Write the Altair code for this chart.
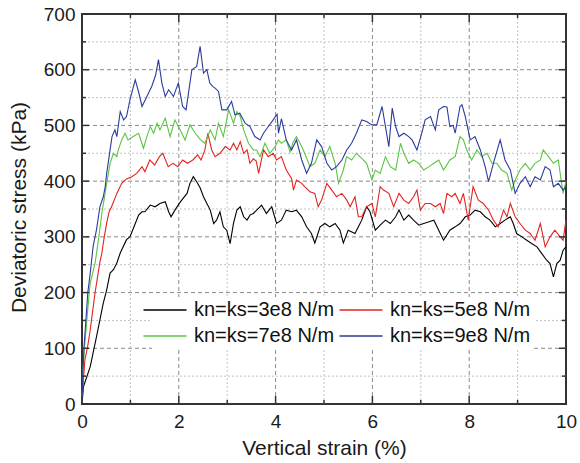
import altair as alt
import pandas as pd

# ---------------- data ----------------
labels = ["kn=ks=3e8 N/m", "kn=ks=5e8 N/m", "kn=ks=7e8 N/m", "kn=ks=9e8 N/m"]
colors = ["#000000", "#e3241f", "#5cc443", "#2b3c9c"]

black = [(0,0),(0.03,31),(0.17,67),(0.3,121),(0.44,181),(0.51,205),(0.58,235),(0.65,241),(0.72,253),(0.79,271),(0.92,295),(0.99,300),(1.06,315),(1.17,339),(1.24,345),(1.3,345),(1.41,357),(1.51,354),(1.61,360),(1.72,363),(1.79,345),(1.84,336),(1.92,348),(2.01,360),(2.06,366),(2.17,378),(2.23,396),(2.3,408),(2.37,399),(2.44,388),(2.51,372),(2.58,360),(2.65,348),(2.72,324),(2.78,330),(2.85,345),(2.92,318),(2.99,312),(3.06,288),(3.13,324),(3.2,348),(3.27,354),(3.34,336),(3.41,330),(3.47,339),(3.54,342),(3.61,348),(3.71,357),(3.81,342),(3.92,354),(4.02,324),(4.12,330),(4.22,348),(4.33,345),(4.43,348),(4.54,336),(4.64,318),(4.74,306),(4.81,289),(4.92,318),(5.02,324),(5.12,318),(5.23,324),(5.33,312),(5.4,289),(5.5,312),(5.64,306),(5.71,318),(5.78,330),(5.88,354),(5.95,345),(6.06,312),(6.16,321),(6.27,330),(6.37,324),(6.48,336),(6.55,348),(6.65,330),(6.75,339),(6.85,330),(6.96,321),(7.06,324),(7.17,327),(7.27,330),(7.37,312),(7.47,294),(7.6,312),(7.71,318),(7.81,324),(7.92,336),(8.02,339),(8.12,348),(8.23,345),(8.33,336),(8.43,330),(8.54,318),(8.64,324),(8.74,330),(8.85,336),(8.91,324),(8.98,306),(9.09,300),(9.19,294),(9.29,288),(9.4,282),(9.5,270),(9.6,258),(9.67,252),(9.74,228),(9.81,252),(9.88,258),(9.94,276),(10,282)]

red = [(0,0),(0.03,45),(0.06,79),(0.12,105),(0.17,133),(0.27,200),(0.37,255),(0.41,271),(0.46,300),(0.51,325),(0.56,345),(0.61,354),(0.72,378),(0.82,396),(0.92,404),(1.03,408),(1.13,414),(1.24,426),(1.3,417),(1.4,438),(1.5,429),(1.6,444),(1.67,450),(1.78,426),(1.88,432),(1.98,426),(2.08,438),(2.18,432),(2.29,438),(2.39,447),(2.46,438),(2.54,456),(2.6,486),(2.68,456),(2.75,444),(2.85,450),(2.96,462),(3.06,456),(3.13,468),(3.2,456),(3.27,471),(3.34,450),(3.41,456),(3.47,432),(3.54,440),(3.6,436),(3.65,414),(3.75,456),(3.85,444),(3.95,450),(4.02,438),(4.12,444),(4.22,420),(4.33,405),(4.37,384),(4.43,402),(4.54,396),(4.6,390),(4.71,381),(4.81,378),(4.88,354),(4.95,366),(5.06,396),(5.16,384),(5.26,372),(5.37,378),(5.47,366),(5.54,354),(5.64,372),(5.71,336),(5.78,336),(5.88,354),(5.99,360),(6.06,336),(6.16,390),(6.23,384),(6.34,378),(6.44,354),(6.55,378),(6.65,366),(6.75,360),(6.85,372),(6.92,384),(6.99,348),(7.09,360),(7.2,360),(7.3,354),(7.4,360),(7.47,342),(7.54,378),(7.64,372),(7.71,378),(7.81,360),(7.88,378),(7.98,330),(8.08,390),(8.19,366),(8.29,360),(8.4,348),(8.5,330),(8.6,318),(8.71,348),(8.78,336),(8.85,360),(8.95,336),(9.05,324),(9.16,312),(9.26,306),(9.36,294),(9.47,324),(9.57,282),(9.67,300),(9.77,312),(9.88,300),(9.94,294),(10,330)]

green = [(0,0),(0.02,60),(0.05,100),(0.1,150),(0.15,200),(0.17,217),(0.27,253),(0.34,295),(0.41,342),(0.51,396),(0.58,432),(0.65,450),(0.72,444),(0.75,456),(0.82,474),(0.89,486),(0.95,474),(1.06,480),(1.17,486),(1.27,459),(1.34,480),(1.41,498),(1.48,486),(1.55,504),(1.61,492),(1.72,513),(1.82,480),(1.92,510),(2.03,492),(2.13,474),(2.23,501),(2.34,486),(2.44,475),(2.54,468),(2.65,492),(2.75,474),(2.82,504),(2.92,480),(3.03,528),(3.13,504),(3.2,525),(3.27,516),(3.34,492),(3.44,468),(3.54,456),(3.61,456),(3.68,444),(3.78,468),(3.88,450),(3.99,462),(4.06,474),(4.12,468),(4.22,474),(4.3,452),(4.36,470),(4.43,480),(4.54,462),(4.6,450),(4.71,426),(4.81,432),(4.92,456),(5.02,444),(5.12,462),(5.23,432),(5.3,396),(5.4,420),(5.47,444),(5.57,438),(5.67,450),(5.78,441),(5.88,432),(5.99,402),(6.06,420),(6.16,414),(6.27,444),(6.37,426),(6.48,420),(6.58,468),(6.65,450),(6.75,432),(6.85,438),(6.96,432),(7.06,420),(7.17,426),(7.27,432),(7.37,438),(7.47,420),(7.6,438),(7.71,444),(7.81,480),(7.88,474),(7.95,456),(8.05,438),(8.16,456),(8.26,444),(8.37,450),(8.47,432),(8.57,432),(8.67,420),(8.78,414),(8.88,384),(8.95,402),(9.05,420),(9.16,432),(9.26,420),(9.36,432),(9.47,438),(9.53,456),(9.64,444),(9.74,432),(9.84,438),(9.94,378),(10,400)]

blue = [(0,0),(0.02,60),(0.04,100),(0.08,150),(0.12,200),(0.17,235),(0.23,283),(0.3,313),(0.37,354),(0.44,372),(0.48,390),(0.51,414),(0.58,456),(0.62,480),(0.68,492),(0.72,480),(0.79,525),(0.86,510),(0.92,516),(0.99,546),(1.1,582),(1.17,560),(1.24,534),(1.34,552),(1.44,570),(1.52,590),(1.58,618),(1.65,576),(1.72,552),(1.79,564),(1.89,552),(1.99,576),(2.08,534),(2.15,528),(2.22,570),(2.27,600),(2.37,606),(2.44,642),(2.51,594),(2.58,600),(2.64,576),(2.7,570),(2.75,567),(2.82,561),(2.89,528),(2.99,528),(3.09,543),(3.16,519),(3.26,522),(3.37,504),(3.47,498),(3.57,480),(3.68,474),(3.75,486),(3.85,498),(3.95,510),(4.03,520),(4.06,486),(4.12,512),(4.22,474),(4.33,456),(4.43,474),(4.54,438),(4.64,414),(4.74,432),(4.85,474),(4.95,462),(5.06,432),(5.16,420),(5.26,426),(5.37,438),(5.47,456),(5.57,468),(5.67,486),(5.78,510),(5.88,507),(5.99,501),(6.09,501),(6.2,534),(6.27,498),(6.34,462),(6.41,531),(6.48,498),(6.55,480),(6.65,486),(6.75,480),(6.82,474),(6.92,456),(7.02,486),(7.09,510),(7.2,516),(7.3,492),(7.37,528),(7.47,534),(7.54,533),(7.6,498),(7.67,500),(7.71,486),(7.81,534),(7.85,537),(7.92,516),(8.02,474),(8.12,480),(8.23,456),(8.33,426),(8.4,399),(8.5,432),(8.64,474),(8.74,438),(8.85,420),(8.95,378),(9.05,396),(9.16,408),(9.26,390),(9.36,408),(9.47,402),(9.57,426),(9.67,420),(9.74,390),(9.84,396),(9.94,384),(10,390)]

x_major = [0, 2, 4, 6, 8, 10]
x_minor = [1, 3, 5, 7, 9]
y_major = [0, 100, 200, 300, 400, 500, 600, 700]
y_minor = [50, 150, 250, 350, 450, 550, 650]

# ---------------- build table ----------------
rows = []
for name, pts in zip(labels, [black, red, green, blue]):
    for x, y in pts:
        rows.append({"strain": x, "stress": y, "series": name})
df = pd.DataFrame(rows)

W, H = 484, 390
FONT = "Liberation Sans"
xs = alt.Scale(domain=[0, 10], nice=False, zero=False)
ys = alt.Scale(domain=[0, 700], nice=False, zero=False)


def vdf(vals):
    return pd.DataFrame({"v": vals})


# grid
grid_vmaj = alt.Chart(vdf(x_major[1:-1])).mark_rule(color="#8a8a8a", strokeDash=[4, 3], strokeWidth=1).encode(
    x=alt.X("v:Q", scale=xs, axis=None))
grid_vmin = alt.Chart(vdf(x_minor)).mark_rule(color="#c2c2c2", strokeDash=[2, 2], strokeWidth=1).encode(
    x=alt.X("v:Q", scale=xs, axis=None))
grid_hmaj = alt.Chart(vdf(y_major[1:-1])).mark_rule(color="#8a8a8a", strokeDash=[4, 3], strokeWidth=1).encode(
    y=alt.Y("v:Q", scale=ys, axis=None))
grid_hmin = alt.Chart(vdf(y_minor)).mark_rule(color="#c2c2c2", strokeDash=[2, 2], strokeWidth=1).encode(
    y=alt.Y("v:Q", scale=ys, axis=None))

# legend symbol: a horizontal stroke 3x longer than its nominal size
SYM = "M-3,0H3"
SYM_SIZE = (43 / 3) ** 2

lines = alt.Chart(df).mark_line(strokeWidth=1.1).encode(
    x=alt.X("strain:Q", scale=xs,
            axis=alt.Axis(values=x_major, format="d", title="Vertical strain (%)", grid=False, ticks=False,
                          domain=False, labelFontSize=19, labelPadding=8, labelFlush=False,
                          titleFontSize=21, titleFontWeight="normal", titleX=W / 2, titleY=44,
                          titleBaseline="middle", titleAlign="center")),
    y=alt.Y("stress:Q", scale=ys,
            axis=alt.Axis(values=y_major, format="d", title="Deviatoric stress (kPa)", grid=False, ticks=False,
                          domain=False, labelFontSize=19, labelPadding=7, labelFlush=False,
                          titleFontSize=21, titleFontWeight="normal", titleX=-63, titleY=H / 2 - 2,
                          titleBaseline="middle", titleAlign="center")),
    color=alt.Color("series:N", scale=alt.Scale(domain=labels, range=colors),
                    legend=alt.Legend(title=None, orient="none", legendX=70, legendY=283, columns=2,
                                      direction="horizontal",
                                      symbolType=SYM, symbolSize=SYM_SIZE, symbolStrokeWidth=1.5,
                                      labelFontSize=20, labelFont=FONT, labelColor="#111111",
                                      fillColor="white", padding=3, rowPadding=6, columnPadding=1,
                                      labelOffset=19, labelLimit=400)),
    order=alt.Order("strain:Q"),
)

TICK = "#333333"


def xticks(vals, y0, y1):
    return alt.Chart(vdf(vals)).mark_rule(color=TICK, strokeWidth=1.5).encode(
        x=alt.X("v:Q", scale=xs, axis=None), y=alt.value(y0), y2=alt.value(y1))


def yticks(vals, x0, x1):
    return alt.Chart(vdf(vals)).mark_rule(color=TICK, strokeWidth=1.5).encode(
        y=alt.Y("v:Q", scale=ys, axis=None), x=alt.value(x0), x2=alt.value(x1))


ticks = [
    xticks(x_major, H, H - 8), xticks(x_minor, H, H - 4),
    xticks(x_major, 0, 8), xticks(x_minor, 0, 4),
    yticks(y_major, 0, 7), yticks(y_minor, 0, 4),
    yticks(y_major, W, W - 7), yticks(y_minor, W, W - 4),
]

chart = alt.layer(grid_vmin, grid_hmin, grid_vmaj, grid_hmaj, lines, *ticks).resolve_axis(
    x="independent", y="independent"
).properties(
    width=W, height=H,
    padding={"left": 82, "top": 14, "right": 14, "bottom": 59},
    autosize=alt.AutoSizeParams(type="none"),
    background="white",
).configure(font=FONT).configure_axis(
    labelColor="#1a1a1a", titleColor="#1a1a1a", labelFont=FONT, titleFont=FONT
).configure_view(stroke="#333333", strokeWidth=2)

chart.save("out.html", embed_options={"renderer": "svg", "actions": False})
